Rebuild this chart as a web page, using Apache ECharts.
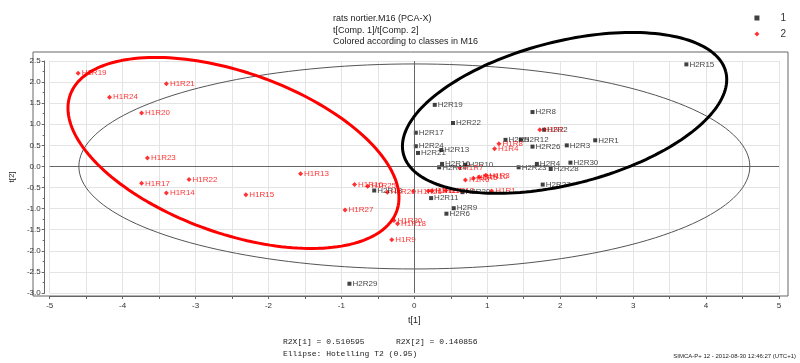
<!DOCTYPE html>
<html>
<head>
<meta charset="utf-8">
<title>rats nortier.M16 (PCA-X)</title>
<script src="https://cdn.jsdelivr.net/npm/echarts@6/dist/echarts.min.js"></script>
<style>
  html, body { margin: 0; padding: 0; background: #fff; }
  #chart { width: 800px; height: 363px; }
</style>
</head>
<body>
<div id="chart"></div>
<script>
// 클래스 1 (검정 사각형)
const class1Names = ['H2R1', 'H2R2', 'H2R3', 'H2R4', 'H2R5', 'H2R6', 'H2R8', 'H2R9', 'H2R10', 'H2R11',
  'H2R12', 'H2R13', 'H2R14', 'H2R15', 'H2R16', 'H2R17', 'H2R18', 'H2R19', 'H2R20', 'H2R21',
  'H2R22', 'H2R23', 'H2R24', 'H2R26', 'H2R27', 'H2R28', 'H2R29', 'H2R30'];
const class1T1 = [2.48, 1.78, 2.09, 1.68, 1.25, 0.44, 1.62, 0.54, 0.70, 0.23,
  1.46, 0.37, 0.34, 3.73, 0.38, 0.02, -0.55, 0.28, 0.66, 0.05,
  0.53, 1.43, 0.02, 1.62, 1.76, 1.87, -0.89, 2.14];
const class1T2 = [0.62, 0.87, 0.50, 0.06, 0.63, -1.12, 1.29, -0.99, 0.04, -0.75,
  0.63, 0.39, -0.02, 2.42, 0.06, 0.80, -0.57, 1.46, -0.61, 0.32,
  1.03, -0.02, 0.48, 0.47, -0.43, -0.06, -2.78, 0.09];

// 클래스 2 (빨강 마름모)
const class2Names = ['H1R1', 'H1R2', 'H1R3', 'H1R4', 'H1R5', 'H1R6', 'H1R7', 'H1R8', 'H1R9', 'H1R10',
  'H1R11', 'H1R12', 'H1R13', 'H1R14', 'H1R15', 'H1R16', 'H1R17', 'H1R18', 'H1R19', 'H1R20',
  'H1R21', 'H1R22', 'H1R23', 'H1R24', 'H1R25', 'H1R26', 'H1R27', 'H1R28', 'H1R29', 'H1R30'];
const class2T1 = [1.06, 1.72, 0.98, 1.10, 0.81, 0.70, 0.62, 1.16, -0.31, 0.89,
  0.19, 0.43, -1.56, -3.40, -2.31, -0.82, -3.74, -0.23, -4.61, -3.74,
  -3.40, -3.09, -3.66, -4.18, -0.64, -0.01, -0.95, -0.37, 0.24, -0.28];
const class2T2 = [-0.58, 0.87, -0.21, 0.42, -0.28, -0.32, -0.03, 0.54, -1.74, -0.25,
  -0.58, -0.57, -0.17, -0.63, -0.67, -0.43, -0.40, -1.36, 2.21, 1.27,
  1.96, -0.31, 0.20, 1.64, -0.47, -0.59, -1.03, -0.61, -0.58, -1.28];

// 타원: 중심, 두 켤레 반지름 벡터 (데이터 단위)
const hotellingCenter = [0, 0];
const hotellingU = [4.6, 0];
const hotellingV = [0, 2.43];
const redCenter = [-2.48, 0.32];
const redU = [2.24, -1.37];
const redV = [-0.364, -1.803];
const blackCenter = [2.06, 1.27];
const blackU = [2.211, 0.969];
const blackV = [0.234, -1.642];

const X_TICKS = [-5, -4, -3, -2, -1, 0, 1, 2, 3, 4, 5];

const FONT = '"Liberation Sans", Arial, sans-serif';
const MONO = '"Liberation Mono", "DejaVu Sans Mono", monospace';

function ellipsePoints(center, u, v, steps = 180) {
    const pts = [];
    for (let i = 0; i <= steps; i++) {
        const t = (i / steps) * Math.PI * 2;
        pts.push([
            center[0] + u[0] * Math.cos(t) + v[0] * Math.sin(t),
            center[1] + u[1] * Math.cos(t) + v[1] * Math.sin(t)
        ]);
    }
    return pts;
}

function zipPoints(names, xs, ys) {
    return names.map((name, i) => ({ name: name, value: [xs[i], ys[i]] }));
}

function scatterSeries(name, data, color, symbol, size) {
    return {
        name: name,
        type: 'scatter',
        xAxisIndex: 0,
        yAxisIndex: 0,
        data: data,
        symbol: symbol,
        symbolSize: size,
        itemStyle: { color: color },
        label: {
            show: true,
            position: 'right',
            distance: 1,
            formatter: '{b}',
            color: color,
            fontSize: 8,
            fontFamily: FONT
        },
        z: 4
    };
}

function ellipseSeries(data, color, width, z) {
    return {
        type: 'line',
        xAxisIndex: 0,
        yAxisIndex: 0,
        data: data,
        showSymbol: false,
        symbol: 'none',
        clip: false,
        silent: true,
        lineStyle: { color: color, width: width },
        z: z
    };
}

const chart = echarts.init(document.getElementById('chart'));

const option = {
    animation: false,
    backgroundColor: '#fff',
    title: {
        text: 'rats nortier.M16 (PCA-X)\nt[Comp. 1]/t[Comp. 2]\nColored according to classes in M16',
        left: 328,
        top: 8,
        textStyle: { fontSize: 9, lineHeight: 11.5, fontWeight: 'normal', color: '#222', fontFamily: FONT }
    },
    legend: {
        data: ['1', '2'],
        orient: 'vertical',
        right: 9,
        top: 8,
        itemWidth: 5,
        itemHeight: 5,
        itemGap: 6,
        textStyle: { fontSize: 10, color: '#333', fontFamily: FONT, padding: [0, 0, 0, 16] }
    },
    grid: [
        // 데이터 좌표 영역
        { left: 38, right: 21, top: 61, bottom: 70, show: false },
        // 바깥 테두리
        { left: 33, right: 12, top: 52, bottom: 67, show: true, borderColor: '#666', borderWidth: 1, backgroundColor: 'transparent' }
    ],
    xAxis: [
        {
            gridIndex: 0,
            type: 'value',
            min: -5,
            max: 5,
            interval: 0.5,
            offset: 3,
            name: 't[1]',
            nameLocation: 'middle',
            nameGap: 20,
            nameTextStyle: { fontSize: 9, color: '#222', fontFamily: FONT },
            axisLine: { show: true, onZero: false, lineStyle: { color: '#666' } },
            axisTick: { show: true, length: 3, lineStyle: { color: '#666' } },
            axisLabel: {
                fontSize: 8, color: '#333', fontFamily: FONT, margin: 6,
                formatter: (v) => (X_TICKS.includes(v) ? String(v) : '')
            },
            splitLine: { show: true, lineStyle: { color: '#e4e4e4', width: 1 } }
        },
        { gridIndex: 1, type: 'value', show: false, min: 0, max: 1 }
    ],
    yAxis: [
        {
            gridIndex: 0,
            type: 'value',
            min: -3,
            max: 2.5,
            interval: 0.5,
            offset: 5,
            name: 't[2]',
            nameLocation: 'middle',
            nameGap: 22,
            nameRotate: 90,
            nameTextStyle: { fontSize: 8, color: '#222', fontFamily: FONT },
            axisLine: { show: true, onZero: false, lineStyle: { color: '#666' } },
            axisTick: { show: true, length: 3, lineStyle: { color: '#666' } },
            minorTick: { show: true, splitNumber: 2, length: 2, lineStyle: { color: '#666' } },
            axisLabel: {
                fontSize: 8, color: '#333', fontFamily: FONT, margin: 4,
                formatter: (v) => v.toFixed(1)
            },
            splitLine: { show: true, lineStyle: { color: '#e4e4e4', width: 1 } }
        },
        { gridIndex: 1, type: 'value', show: false, min: 0, max: 1 }
    ],
    series: [
        // 원점 기준선
        {
            type: 'line',
            xAxisIndex: 0,
            yAxisIndex: 0,
            data: [],
            silent: true,
            markLine: {
                silent: true,
                symbol: 'none',
                label: { show: false },
                lineStyle: { color: '#666', type: 'solid', width: 1 },
                data: [{ xAxis: 0 }, { yAxis: 0 }]
            },
            z: 1
        },
        ellipseSeries(ellipsePoints(hotellingCenter, hotellingU, hotellingV), '#555', 1, 2),
        scatterSeries('1', zipPoints(class1Names, class1T1, class1T2), '#111', 'rect', 4),
        scatterSeries('2', zipPoints(class2Names, class2T1, class2T2), '#f00', 'diamond', 5),
        ellipseSeries(ellipsePoints(redCenter, redU, redV), '#f00', 3, 5),
        ellipseSeries(ellipsePoints(blackCenter, blackU, blackV), '#000', 3, 5)
    ],
    graphic: [
        { type: 'text', left: 283, top: 338, style: { text: 'R2X[1] = 0.510595', fontSize: 8, fontFamily: MONO, fill: '#222' } },
        { type: 'text', left: 396, top: 338, style: { text: 'R2X[2] = 0.140856', fontSize: 8, fontFamily: MONO, fill: '#222' } },
        { type: 'text', left: 283, top: 350, style: { text: 'Ellipse: Hotelling T2 (0.95)', fontSize: 8, fontFamily: MONO, fill: '#222' } },
        { type: 'text', right: 4, top: 353, style: { text: 'SIMCA-P+ 12 - 2012-08-30 12:46:27 (UTC+1)', fontSize: 6, fontFamily: FONT, fill: '#222' } }
    ]
};

chart.setOption(option);
</script>
</body>
</html>
